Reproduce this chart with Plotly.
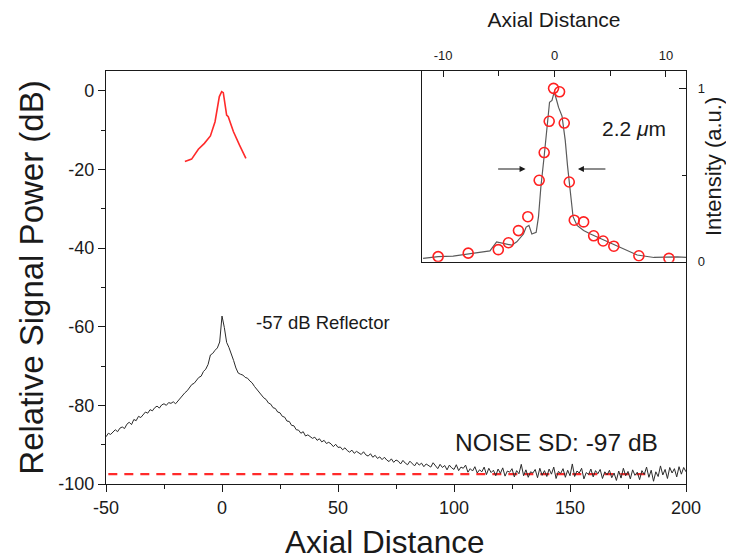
import plotly.graph_objects as go

# ---------------- main panel data ----------------
axial_main = list(range(-50, 201))
signal_db = [
    -88.0, -87.1, -87.4, -86.9, -86.2, -86.7, -85.8, -85.5, -85.9, -84.8,   # -50..-41
    -84.3, -84.9, -83.6, -83.9, -82.8, -83.1, -82.3, -81.7, -82.0, -81.1,   # -40..-31
    -81.4, -80.6, -80.2, -80.7, -79.9, -79.6, -80.0, -79.3, -79.5, -79.1,   # -30..-21
    -79.6, -78.9, -78.1, -77.6, -76.8, -76.3, -75.5, -74.7, -74.4, -73.5,   # -20..-11
    -72.9, -72.6, -71.4, -70.8, -69.6, -67.2, -66.8, -66.0, -65.4, -63.9,   # -10..-1
    -57.3, -60.2, -64.0, -65.3, -66.8, -68.6, -70.5, -71.8, -72.1, -72.3,   # 0..9
    -72.9, -73.1, -73.8, -74.3, -75.2, -75.9, -76.8, -77.3, -78.1, -78.5,   # 10..19
    -79.4, -79.7, -80.6, -80.8, -81.7, -81.9, -82.8, -83.0, -84.0, -84.1,   # 20..29
    -85.1, -85.2, -86.2, -86.3, -87.1, -86.7, -87.8, -87.5, -88.0, -88.4,   # 30..39
    -88.1, -88.9, -88.5, -89.3, -88.9, -89.7, -89.4, -89.8, -90.5, -89.9,   # 40..49
    -90.7, -90.6, -91.3, -90.8, -91.5, -91.9, -91.4, -92.2, -91.7, -92.0,   # 50..59
    -92.5, -91.8, -92.6, -92.9, -92.3, -93.2, -92.7, -93.5, -93.1, -93.8,   # 60..69
    -93.2, -93.9, -94.3, -93.6, -94.5, -93.9, -94.2, -94.9, -94.0, -94.7,   # 70..79
    -95.1, -94.2, -94.9, -95.4, -94.5, -95.2, -94.7, -95.6, -94.9, -95.3,   # 80..89
    -95.7, -94.6, -95.5, -96.1, -95.0, -95.8, -95.3, -96.4, -95.2, -95.9,   # 90..99
    -96.3, -95.1, -96.6, -95.7, -96.0, -95.2, -97.0, -96.1, -96.7, -95.6,   # 100..109
    -97.2, -96.4, -96.9, -95.7, -97.6, -96.0, -97.1, -96.5, -97.9, -96.2,   # 110..119
    -97.3, -95.9, -98.0, -96.7, -97.0, -96.1, -98.2, -96.6, -97.4, -95.0,   # 120..129
    -97.9, -96.4, -98.3, -96.9, -97.2, -96.3, -98.4, -96.0, -97.8, -96.6,   # 130..139
    -98.1, -96.2, -97.5, -95.7, -98.6, -96.8, -97.3, -96.1, -98.3, -96.5,   # 140..149
    -97.9, -94.9, -98.1, -96.7, -97.2, -96.0, -98.7, -97.1, -97.6, -96.2,   # 150..159
    -98.2, -96.6, -97.4, -96.3, -98.6, -96.9, -97.7, -96.5, -98.4, -97.2,   # 160..169
    -99.1, -96.7, -98.5, -96.0, -97.9, -96.8, -98.7, -96.4, -97.8, -97.0,   # 170..179
    -98.9, -96.6, -97.6, -95.7, -98.3, -96.5, -99.3, -96.9, -98.1, -95.4,   # 180..189
    -97.7, -96.3, -98.6, -95.8, -97.2, -96.1, -98.2, -95.6, -97.5, -95.8,   # 190..199
    -96.9,                                                                  # 200
]

# red sketch of the reflector peak (shifted to 0 dB)
axial_red = [-16.0, -15.2, -13.1, -10.2, -7.6, -5.0, -3.0, -1.15, -0.14, 0.55,
             1.3, 2.0, 2.7, 4.9, 7.5, 10.3]
signal_red = [-18.0, -17.8, -17.4, -14.9, -13.4, -11.5, -7.9, -1.5, -0.25, -0.5,
              -3.2, -6.2, -6.6, -10.4, -13.8, -17.2]

# noise floor level
noise_x = [-49, 183]
noise_db = [-97.5, -97.5]

# ---------------- inset data ----------------
inset_line_x = [-11.8, -10.45, -9.1, -7.75, -6.4, -5.8, -5.2, -4.6, -3.84, -3.39,
                -2.79, -2.55, -2.3, -2.04, -1.65, -1.44, -1.23, -0.93, -0.63, -0.45,
                -0.23, -0.03, 0.15, 0.36, 0.67, 0.96, 1.17, 1.41, 1.66, 2.02,
                2.61, 3.22, 4.12, 5.02, 6.22, 7.42, 8.92, 11.03, 11.8]
inset_line_y = [0.02, 0.03, 0.033, 0.045, 0.058, 0.063, 0.115, 0.105, 0.096, 0.115,
                0.16, 0.20, 0.21, 0.16, 0.17, 0.26, 0.43, 0.61, 0.81, 0.92,
                0.93, 0.98, 0.94, 0.89, 0.84, 0.70, 0.55, 0.39, 0.26, 0.21,
                0.18, 0.16, 0.135, 0.106, 0.077, 0.039, 0.025, 0.029, 0.025]

inset_pts_x = [-10.45, -7.75, -5.05, -4.14, -3.24, -2.40, -1.38, -0.93, -0.48, -0.09,
               0.45, 0.87, 1.32, 1.77, 2.61, 3.51, 4.36, 5.32, 7.57, 10.27]
inset_pts_y = [0.03, 0.05, 0.07, 0.11, 0.18, 0.26, 0.47, 0.63, 0.81, 1.00,
               0.98, 0.80, 0.46, 0.24, 0.23, 0.15, 0.12, 0.09, 0.035, 0.02]

main_xticks = [-50, 0, 50, 100, 150, 200]
main_xticktext = ["-50", "0", "50", "100", "150", "200"]
main_yticks = [-100, -80, -60, -40, -20, 0]
main_yticktext = ["-100", "-80", "-60", "-40", "-20", "0"]
inset_xticks = [-10, 0, 10]
inset_xticktext = ["-10", "0", "10"]
inset_yticks = [0, 1]
inset_yticktext = ["0", "1"]

FONT = "Liberation Sans, Arial, sans-serif"
INK = "#1a1a1a"

fig = go.Figure()

fig.add_trace(go.Scatter(x=noise_x, y=noise_db, mode="lines",
                         line=dict(color="#ff2a2a", width=2.2, dash="9px,7px"),
                         showlegend=False, hoverinfo="skip"))
fig.add_trace(go.Scatter(x=axial_main, y=signal_db, mode="lines",
                         line=dict(color="#2b2b2b", width=1),
                         showlegend=False))
fig.add_trace(go.Scatter(x=axial_red, y=signal_red, mode="lines",
                         line=dict(color="#ff2a2a", width=1.6),
                         showlegend=False))

fig.add_trace(go.Scatter(x=inset_line_x, y=inset_line_y, mode="lines",
                         line=dict(color="#5a5a5a", width=1.2),
                         xaxis="x2", yaxis="y2", showlegend=False))
fig.add_trace(go.Scatter(x=inset_pts_x, y=inset_pts_y, mode="markers",
                         marker=dict(symbol="circle-open", size=10,
                                     color="#ff2020", line=dict(width=1.6, color="#ff2020")),
                         xaxis="x2", yaxis="y2", showlegend=False))

axis_common = dict(showgrid=False, zeroline=False, showline=True, linecolor=INK,
                   linewidth=1.3, tickcolor=INK, tickwidth=1.2)

fig.update_layout(
    width=726, height=551,
    margin=dict(l=98, r=48, t=63, b=75, autoexpand=False),
    paper_bgcolor="white", plot_bgcolor="white",
    font=dict(family=FONT, color=INK),
    xaxis=dict(**axis_common, domain=[0, 1], range=[-50, 200], mirror=True,
               ticks="outside", ticklen=7,
               tickmode="array", tickvals=main_xticks, ticktext=main_xticktext,
               tickfont=dict(size=18),
               minor=dict(tickmode="array", tickvals=[-25, 25, 75, 125, 175],
                          ticks="outside", ticklen=4, tickcolor=INK, tickwidth=1.2)),
    yaxis=dict(**axis_common, domain=[0, 1], range=[-100, 5], mirror=True,
               ticks="outside", ticklen=7,
               tickmode="array", tickvals=main_yticks, ticktext=main_yticktext,
               tickfont=dict(size=18),
               minor=dict(tickmode="array", tickvals=[-90, -70, -50, -30, -10],
                          ticks="outside", ticklen=4, tickcolor=INK, tickwidth=1.2),
               title=dict(text="Relative Signal Power (dB)", font=dict(size=33), standoff=4)),
    xaxis2=dict(**axis_common, domain=[0.5448, 1.0], anchor="y2", side="top",
                range=[-11.9, 11.8], mirror=True, ticks="inside", ticklen=6,
                ticklabelstandoff=5,
                tickmode="array", tickvals=inset_xticks, ticktext=inset_xticktext,
                tickfont=dict(size=13),
                minor=dict(tickmode="array", tickvals=[-5, 5], ticks="inside",
                           ticklen=5, tickcolor=INK, tickwidth=1.2),
                title=dict(text="Axial Distance", font=dict(size=21), standoff=14)),
    yaxis2=dict(**axis_common, domain=[0.538, 1.0], anchor="x2", side="right",
                range=[0, 1.1], mirror=True, ticks="inside", ticklen=7,
                ticklabelstandoff=8,
                tickmode="array", tickvals=inset_yticks, ticktext=inset_yticktext,
                tickfont=dict(size=13),
                minor=dict(tickmode="array", tickvals=[0.5], ticks="inside",
                           ticklen=4, tickcolor=INK, tickwidth=1.2),
                title=dict(text="Intensity (a.u.)", font=dict(size=22), standoff=1)),
    annotations=[
        dict(x=0.481, y=-0.1404, xref="paper", yref="paper", text="Axial Distance",
             showarrow=False, xanchor="center", yanchor="middle",
             font=dict(size=31.5, color=INK)),
        dict(x=14.0, y=-58.9, xref="x", yref="y", text="-57 dB Reflector",
             showarrow=False, xanchor="left", yanchor="middle",
             font=dict(size=18.5, color=INK)),
        dict(x=99.4, y=-89.4, xref="x", yref="y", text="NOISE SD: -97 dB",
             showarrow=False, xanchor="left", yanchor="middle",
             font=dict(size=24.5, color=INK)),
        dict(x=4.1, y=0.77, xref="x2", yref="y2", text="2.2 <i>μ</i>m",
             showarrow=False, xanchor="left", yanchor="middle",
             font=dict(size=21, color=INK)),
        dict(x=-2.6, y=0.535, xref="x2", yref="y2", ax=-5.2, ay=0.535,
             axref="x2", ayref="y2", text="", showarrow=True,
             arrowhead=2, arrowsize=1, arrowwidth=1.2, arrowcolor=INK),
        dict(x=2.1, y=0.535, xref="x2", yref="y2", ax=4.7, ay=0.535,
             axref="x2", ayref="y2", text="", showarrow=True,
             arrowhead=2, arrowsize=1, arrowwidth=1.2, arrowcolor=INK),
    ],
)

fig.write_html("out.html")
